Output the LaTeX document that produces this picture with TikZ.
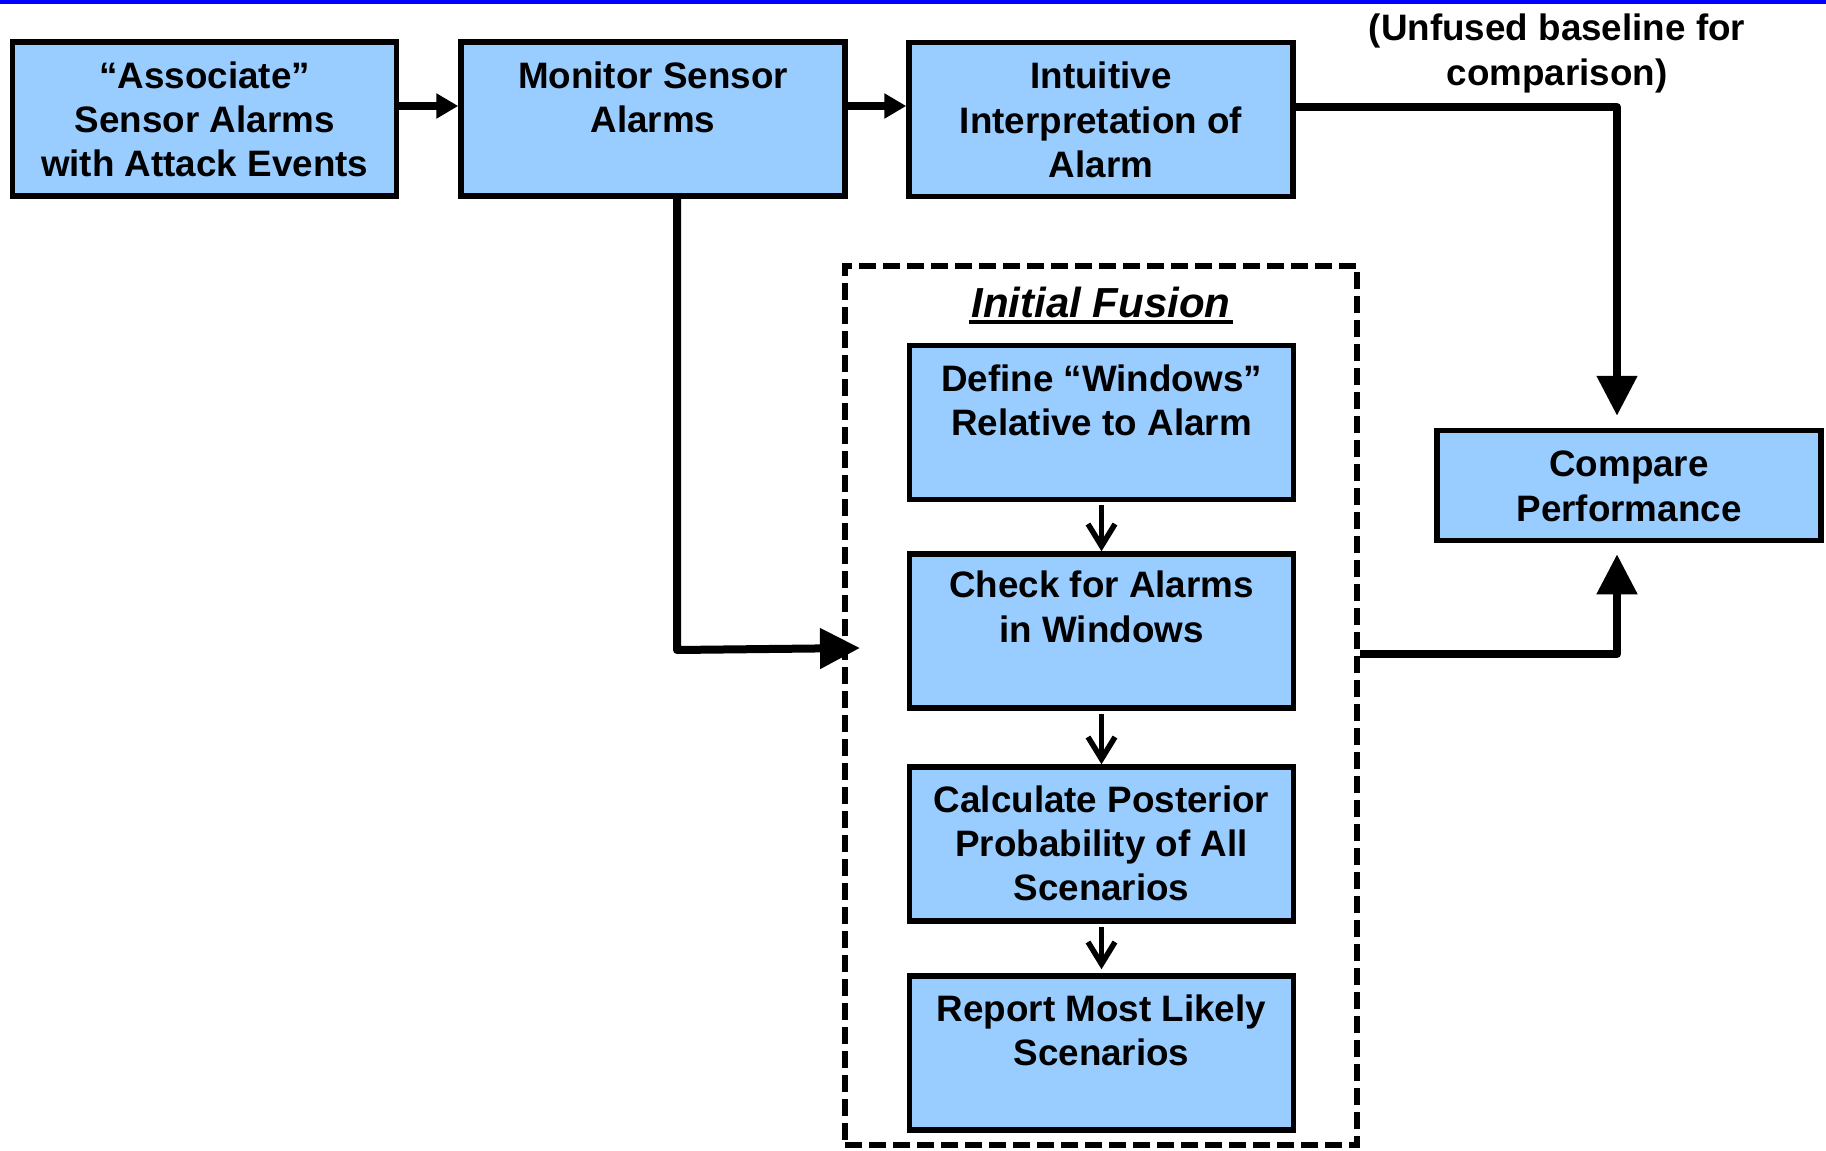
\documentclass[tikz,border=0pt]{standalone}
\usepackage{fontspec}
\setmainfont{Liberation Sans}
\usetikzlibrary{arrows.meta,calc}
\definecolor{boxblue}{RGB}{153,204,255}
\definecolor{rulerblue}{RGB}{0,0,255}
% fixed height for the first line of every label, so labels hang from their top
\newcommand{\lnup}{\rule{0pt}{15pt}}
\begin{document}
\begin{tikzpicture}[x=0.5pt, y=-0.5pt,
  stage/.style={draw, line width=2.75pt, fill=boxblue, inner sep=0pt,
    minimum width=192pt, minimum height=77pt},
  lbl/.style={font=\bfseries\fontsize{18.4}{22.2}\selectfont, align=center,
    inner sep=0pt, anchor=north},
  bigarrow/.style={line width=4pt, line join=round,
    -{Triangle[length=20pt,width=19.5pt]}},
  midarrow/.style={line width=4pt, -{Triangle[length=11pt,width=12pt]}},
  steparrow/.style={line width=2.75pt, -{Straight Barb[length=11pt,width=13.5pt]}},
  groupbox/.style={draw, line width=2.75pt, dash pattern=on 8.5pt off 3.5pt,
    inner sep=0pt, minimum width=256pt, minimum height=439.5pt}
]
\useasboundingbox (0,0) rectangle (1826,1151);

% thin rule along the top edge
\fill[rulerblue] (0,0) rectangle (1826,3.5);

% top row of stages
\node[stage] (as)  at (204.7,119) {};
\node[stage] (mon) at (653,119) {};
\node[stage] (int) at (1101,119.5) {};
\node[lbl] (asT)  at ($(as.north)+(0,18.5)$)  {\lnup“Associate”\\Sensor Alarms\\with Attack Events};
\node[lbl] (monT) at ($(mon.north)+(0,18.5)$) {\lnup Monitor Sensor\\Alarms};
\node[lbl] (intT) at ($(int.north)+(0,18.5)$) {\lnup Intuitive\\Interpretation of\\Alarm};

% note above the baseline path
\node[lbl, font=\bfseries\fontsize{18.4}{22.5}\selectfont] (note) at (1557,9.8)
  {\lnup(Unfused baseline for\\comparison)};

% fusion group
\node[groupbox] (fus) at (1101,705.5) {};
\node[font=\bfseries\itshape\fontsize{21}{25}\selectfont, inner sep=0pt, anchor=base]
  (ttl) at (1101,317) {Initial Fusion};
\draw[line width=2.4pt] ($(ttl.base west)+(-2,5)$) -- ($(ttl.base east)+(2,5)$);

\node[stage] (def) at (1101.5,422.5) {};
\node[stage] (chk) at (1101.5,631) {};
\node[stage] (cal) at (1101.5,844) {};
\node[stage] (rep) at (1101.5,1053) {};
\node[lbl] (defT) at ($(def.north)+(0,18)$) {\lnup Define “Windows”\\Relative to Alarm};
\node[lbl] (chkT) at ($(chk.north)+(0,16)$) {\lnup Check for Alarms\\in Windows};
\node[lbl] (calT) at ($(cal.north)+(0,17.5)$) {\lnup Calculate Posterior\\Probability of All\\Scenarios};
\node[lbl] (repT) at ($(rep.north)+(0,17.5)$) {\lnup Report Most Likely\\Scenarios};

% comparison stage
\node[stage, minimum height=55pt] (cmp) at (1629,485.5) {};
\node[lbl] (cmpT) at ($(cmp.north)+(0,18.5)$) {\lnup Compare\\Performance};

% connectors along the top row
\coordinate (rowA) at (0,106);
\draw[midarrow] (as.east |- rowA) -- (mon.west |- rowA);
\draw[midarrow] (mon.east |- rowA) -- (int.west |- rowA);

% baseline path into the comparison
\coordinate (topbend) at (1617,107);
\draw[bigarrow] (int.east |- topbend) -- (topbend) -- ($(cmp.north -| topbend)+(0,-12)$);

% fused path into the comparison
\coordinate (lowbend) at (1617,654);
\draw[bigarrow] (fus.east |- lowbend) -- (lowbend) -- ($(cmp.south -| lowbend)+(0,11)$);

% sensor alarms feed the fusion group
\coordinate (leftbend) at (677,650);
\coordinate (lefttip) at (860,648);
\draw[bigarrow] (mon.south -| leftbend) -- (leftbend) -- (lefttip);

% steps inside the fusion group
\draw[steparrow] ($(def.south)+(0,3)$) -- (chk.north);
\draw[steparrow] ($(chk.south)+(0,3)$) -- (cal.north);
\draw[steparrow] ($(cal.south)+(0,3)$) -- ($(rep.north)+(0,-4)$);
\end{tikzpicture}
\end{document}
